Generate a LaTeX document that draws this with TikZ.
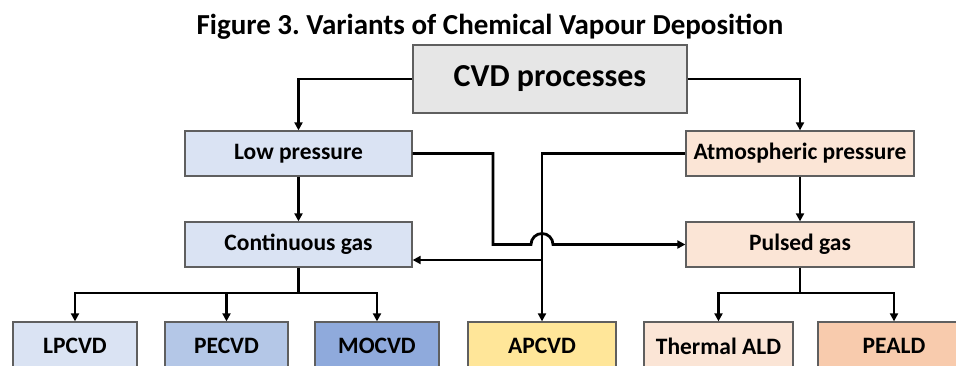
\documentclass[tikz,border=0pt]{standalone}
\usepackage{fontspec}
\setmainfont{Carlito}
\frenchspacing
\usetikzlibrary{arrows.meta,calc}
\definecolor{boxgray}{HTML}{E6E6E6}
\definecolor{lblue}{HTML}{DAE3F3}
\definecolor{mblue}{HTML}{B4C7E7}
\definecolor{dblue}{HTML}{8FAADC}
\definecolor{lyellow}{HTML}{FFE699}
\definecolor{lpeach}{HTML}{FBE5D6}
\definecolor{dpeach}{HTML}{F8CBAD}
\definecolor{edge}{HTML}{5F5F5F}
\tikzset{
  box/.style={draw=edge, line width=1.3pt, inner sep=0pt, font=\fontsize{23.5}{25}\selectfont\bfseries},
  conn/.style={line width=2.8pt, black},
  arr/.style={conn, -{Triangle[length=8pt,width=8pt]}},
}
\begin{document}
\begin{tikzpicture}[x=1pt,y=-1pt]
\useasboundingbox (0,0) rectangle (956,365);
\clip (0,0) rectangle (956,365);
\fill[white] (0,0) rectangle (956,365);
\node[font=\fontsize{29}{31}\selectfont\bfseries] (title) at (490,27) {Figure 3. Variants of Chemical Vapour Deposition};
\node[box, fill=boxgray, minimum width=274pt, minimum height=68pt, font=\fontsize{32}{34}\selectfont\bfseries] (cvd) at (550,79) {CVD processes};
\node[box, fill=lblue, minimum width=227pt, minimum height=45pt] (low) at (298.5,153.5) {Low pressure};
\node[box, fill=lblue, minimum width=227pt, minimum height=45pt] (cont) at (298.5,244.5) {Continuous gas};
\node[box, fill=lpeach, minimum width=228pt, minimum height=45pt] (atm) at (800,153.5) {Atmospheric pressure};
\node[box, fill=lpeach, minimum width=228pt, minimum height=45pt] (pulsed) at (800,244.5) {Pulsed gas};
\node[box, fill=lblue, minimum width=124pt, minimum height=48pt] (lpcvd) at (75,346) {LPCVD};
\node[box, fill=mblue, minimum width=123pt, minimum height=48pt] (pecvd) at (226.5,346) {PECVD};
\node[box, fill=dblue, minimum width=124pt, minimum height=48pt] (mocvd) at (377,346) {MOCVD};
\node[box, fill=lyellow, minimum width=148pt, minimum height=48pt] (apcvd) at (542,346) {APCVD};
\node[box, fill=lpeach, minimum width=149pt, minimum height=48pt] (thermal) at (718.5,346) {Thermal ALD};
\node[box, fill=dpeach, minimum width=152pt, minimum height=48pt] (peald) at (894,346) {PEALD};
% top level
\draw[arr] (cvd.west) -| (low.north);
\draw[arr] (cvd.east) -| (atm.north);
\draw[arr] (low) -- (cont);
\draw[arr] (atm) -- (pulsed);
% crossing links
\draw[arr] (atm.west) -| (apcvd.north);
\coordinate (j) at (542,260);
\draw[arr] (j) -- (j -| cont.east);
\draw[arr] (low.east) -| (493,244.5) -- (531,244.5) arc[start angle=180, end angle=0, radius=11pt] -- (pulsed.west);
% bottom trees
\coordinate (bl) at (0,293);
\draw[conn] (cont.south) -- (cont.south |- bl);
\draw[arr] (cont.south |- bl) -| (lpcvd.north);
\draw[arr] (cont.south |- bl) -| (mocvd.north);
\draw[arr] (pecvd.north |- bl) -- (pecvd.north);
\draw[conn] (pulsed.south) -- (pulsed.south |- bl);
\draw[arr] (pulsed.south |- bl) -| (thermal.north);
\draw[arr] (pulsed.south |- bl) -| (peald.north);
\end{tikzpicture}
\end{document}
